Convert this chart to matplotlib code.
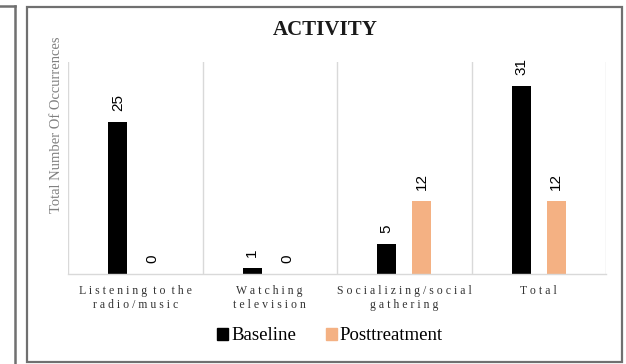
import matplotlib.pyplot as plt
from matplotlib.patches import Patch, Rectangle
from matplotlib.lines import Line2D
import numpy as np

# Activity counts, baseline vs posttreatment
categories = ["Listening to the\nradio/music", "Watching\ntelevision",
              "Socializing/social\ngathering", "Total"]
baseline = [25, 1, 5, 31]
posttreatment = [0, 0, 12, 12]

BLACK = "#000000"
ORANGE = "#F4B183"
GRID = "#D9D9D9"


# Spread letters out a little, like the tracked tick labels
def spaced(label):
    lines = []
    for line in label.split("\n"):
        lines.append("  ".join(" ".join(w) for w in line.split(" ")))
    return "\n".join(lines)


fig = plt.figure(figsize=(6.26, 3.64), dpi=100)
ax = fig.add_axes([68 / 626, 1 - 274 / 364, 538 / 626, 212 / 364])

x = np.arange(len(categories))
w = 0.14
off = 0.13
b1 = ax.bar(x - off, baseline, w, color=BLACK)
b2 = ax.bar(x + off, posttreatment, w, color=ORANGE)

for bars, vals in ((b1, baseline), (b2, posttreatment)):
    for rect, v in zip(bars, vals):
        ax.annotate(str(v), (rect.get_x() + rect.get_width() / 2, v),
                    xytext=(0, 8), textcoords="offset points",
                    rotation=90, ha="center", va="bottom",
                    fontsize=11, family="Liberation Sans", color="#000000")

ax.set_xlim(-0.5, len(categories) - 0.5)
ax.set_ylim(0, 34.9)

# vertical separators between categories
for b in np.arange(-0.5, len(categories), 1.0):
    ax.axvline(b, color=GRID, lw=1.0, zorder=0)

for s in ["top", "right", "left"]:
    ax.spines[s].set_visible(False)
ax.spines["bottom"].set_color(GRID)
ax.spines["bottom"].set_linewidth(1.0)
ax.set_yticks([])
ax.set_xticks(x)
ax.set_xticklabels([spaced(c) for c in categories], family="Liberation Serif",
                   fontsize=8.5, color="#333333", linespacing=1.25)
ax.tick_params(axis="x", length=0, pad=8)

fig.text(325 / 626, 1 - 30 / 364, "ACTIVITY", ha="center", va="center",
         family="Liberation Serif", fontweight="bold", fontsize=15,
         color="#1a1a1a")
fig.text(57 / 626, 1 - 125 / 364, "Total Number Of Occurrences", rotation=90,
         ha="center", va="center", family="Liberation Serif", fontsize=10.5,
         color="#808080")

handles = [Patch(color=BLACK, label="Baseline"),
           Patch(color=ORANGE, label="Posttreatment")]
fig.legend(handles=handles, loc="center", bbox_to_anchor=(330 / 626, 1 - 336 / 364),
           ncol=2, frameon=False, handlelength=0.6, handleheight=0.6,
           handletextpad=0.15, columnspacing=1.6,
           prop={"family": "Liberation Serif", "size": 13.5})

# panel frame plus the edge of the neighbouring panel
fig.patches.append(Rectangle((27 / 626, 1 - 362 / 364), 595 / 626, 355 / 364,
                             transform=fig.transFigure, fill=False,
                             edgecolor="#707070", lw=1.6))
fig.lines.append(Line2D([14.5 / 626, 14.5 / 626], [0, 1 - 6 / 364],
                        transform=fig.transFigure, color="#707070", lw=1.8))
fig.lines.append(Line2D([0, 14.5 / 626], [1 - 6 / 364, 1 - 6 / 364],
                        transform=fig.transFigure, color="#707070", lw=1.8))

fig.savefig("out.png", dpi=100)
